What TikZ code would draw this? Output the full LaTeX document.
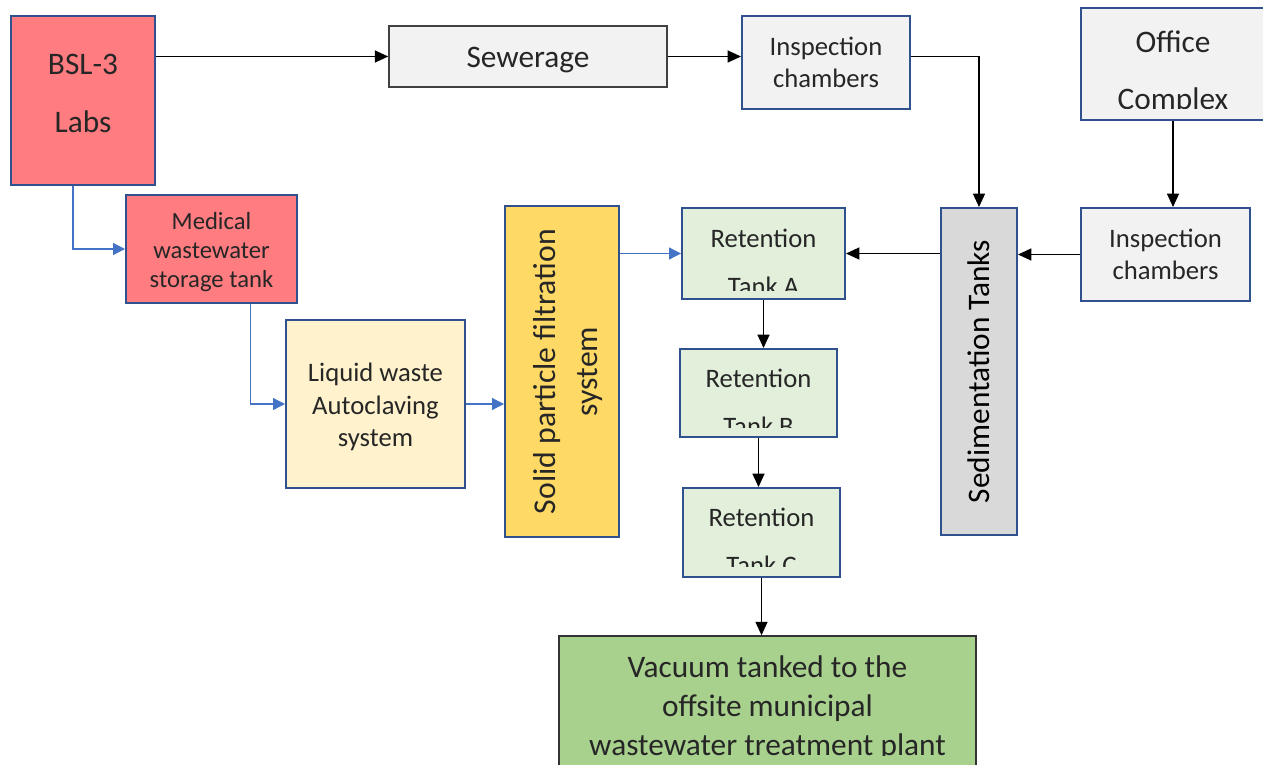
\documentclass[tikz,border=0pt]{standalone}
\usepackage{fontspec}
\usepackage{graphicx}
\setmainfont{Carlito}
\usetikzlibrary{arrows.meta}
\definecolor{labred}{HTML}{FF7C80}
\definecolor{boxblue}{HTML}{2F528F}
\definecolor{paper}{HTML}{F2F2F2}
\definecolor{sedgray}{HTML}{D9D9D9}
\definecolor{cream}{HTML}{FFF2CC}
\definecolor{gold}{HTML}{FFD966}
\definecolor{tankgreen}{HTML}{E2EFDA}
\definecolor{plantgreen}{HTML}{A9D18E}
\definecolor{pipeblue}{HTML}{4472C4}
\tikzset{
  wh/.style 2 args={minimum width=#1*0.75pt,minimum height=#2*0.75pt},
  box/.style={draw=boxblue,line width=1.5pt,inner sep=0pt,align=center,text=black!85},
  big/.style={font=\fontsize{23.5}{28}\selectfont},
  mid/.style={font=\fontsize{20}{24}\selectfont},
  % text placed inside the box, shifted by (#1,#2)
  inside/.style n args={4}{path picture={\node[align=center,text=black!85,font=#3] at ([xshift=#1,yshift=#2]path picture bounding box.center) {#4};}},
  % text cut off near the lower edge of the box
  cutin/.style n args={4}{path picture={\clip ([yshift=#1]path picture bounding box.south west) rectangle (path picture bounding box.north east);
      \node[align=center,text=black!85,font=#3] at ([yshift=#2]path picture bounding box.center) {#4};}},
  tank/.style={box,fill=tankgreen},
  arr/.style={line width=1pt,-{Triangle[length=10pt,width=9pt]}},
  barr/.style={draw=pipeblue,line width=0.9pt,-{Triangle[length=9pt,width=9pt,fill=pipeblue]}}
}
\begin{document}
\begin{tikzpicture}[x=0.75pt,y=-0.75pt]
  \useasboundingbox (0,0) rectangle (1263,764);
  \clip (0,0) rectangle (1263,764);
  % sources
  \node[box,fill=labred,wh={144}{169},inside={0pt}{5pt}{\fontsize{23.5}{43.5}\selectfont\color{black}}{BSL-3\\Labs}] (bsl) at (83,100.5) {};
  \node[box,draw=black!75,line width=1.2pt,fill=paper,wh={278}{61},inside={0pt}{-3pt}{\fontsize{23.5}{28}\selectfont\color{black}}{Sewerage}] (sew) at (528,56.5) {};
  \node[box,fill=paper,wh={168}{93},mid] (ins1) at (826,62.5) {Inspection\\chambers};
  \node[box,fill=paper,wh={184}{112},cutin={9pt}{-6.5pt}{\fontsize{23.5}{42.75}\selectfont\color{black}}{Office\\Complex}] (off) at (1173,64) {};
  \node[box,fill=paper,wh={169}{93},mid] (ins2) at (1165.5,254.5) {Inspection\\chambers};
  \node[box,fill=sedgray,wh={76}{327},text=black,font=\fontsize{23.5}{28}\selectfont] (sed) at (979,371.5) {\rotatebox{90}{Sedimentation Tanks}};

  % treatment line
  \node[box,fill=labred,wh={171}{108},inside={0pt}{-2.5pt}{\fontsize{18.5}{21.75}\selectfont}{Medical\\wastewater\\storage tank}] (med) at (211.5,249) {};
  \node[box,fill=cream,wh={179}{168},inside={0pt}{-2.5pt}{\fontsize{20}{24.4}\selectfont}{Liquid waste\\Autoclaving\\system}] (liq) at (375.5,404) {};
  \node[box,fill=gold,wh={114}{331},inside={4.5pt}{0pt}{\fontsize{23.8}{31.5}\selectfont\color{black}}{\rotatebox{90}{\begin{tabular}{@{}c@{}}Solid particle filtration\\system\end{tabular}}}] (sol) at (562,371.5) {};

  % retention tanks
  \node[tank,wh={163}{91},cutin={6.5pt}{-6.4pt}{\fontsize{20}{36}\selectfont}{Retention\\Tank A}] (rta) at (763.5,253.5) {};
  \node[tank,wh={157}{88},cutin={7.5pt}{-6.7pt}{\fontsize{20}{36}\selectfont}{Retention\\Tank B}] (rtb) at (758.5,393) {};
  \node[tank,wh={157}{89},cutin={8pt}{-6.4pt}{\fontsize{20}{36}\selectfont}{Retention\\Tank C}] (rtc) at (761.5,532.5) {};
  \node[box,draw=black!80,line width=1.2pt,fill=plantgreen,wh={417}{140},cutin={15.5pt}{-1.5pt}{\fontsize{23.5}{29.25}\selectfont\color{black}}{Vacuum tanked to the\\offsite municipal\\wastewater treatment plant}] (vac) at (767.5,706) {};

  % black connectors
  \draw[arr] (bsl.east |- sew.west) -- (sew.west);
  \draw[arr] (sew.east) -- (sew.east -| ins1.west);
  \draw[arr] (ins1.east |- sew.east) -| (sed.north);
  \draw[arr] (off.south) -- (off.south |- ins2.north);
  \draw[arr] (ins2.west) -- (ins2.west -| sed.east);
  \draw[arr] (sed.west |- rta.east) -- (rta.east);
  \foreach \from/\to in {rta/rtb,rtb/rtc,rtc/vac}
    \draw[arr] (\from.south) -- (\from.south |- \to.north);

  % blue connectors
  \draw[barr] ([xshift=-7.5pt]bsl.south) |- (med.west);
  \draw[barr] ([xshift=29.5pt]med.south) |- (liq.west);
  \draw[barr] (liq.east) -- (liq.east -| sol.west);
  \draw[barr] (sol.east |- rta.west) -- (rta.west);
\end{tikzpicture}
\end{document}
